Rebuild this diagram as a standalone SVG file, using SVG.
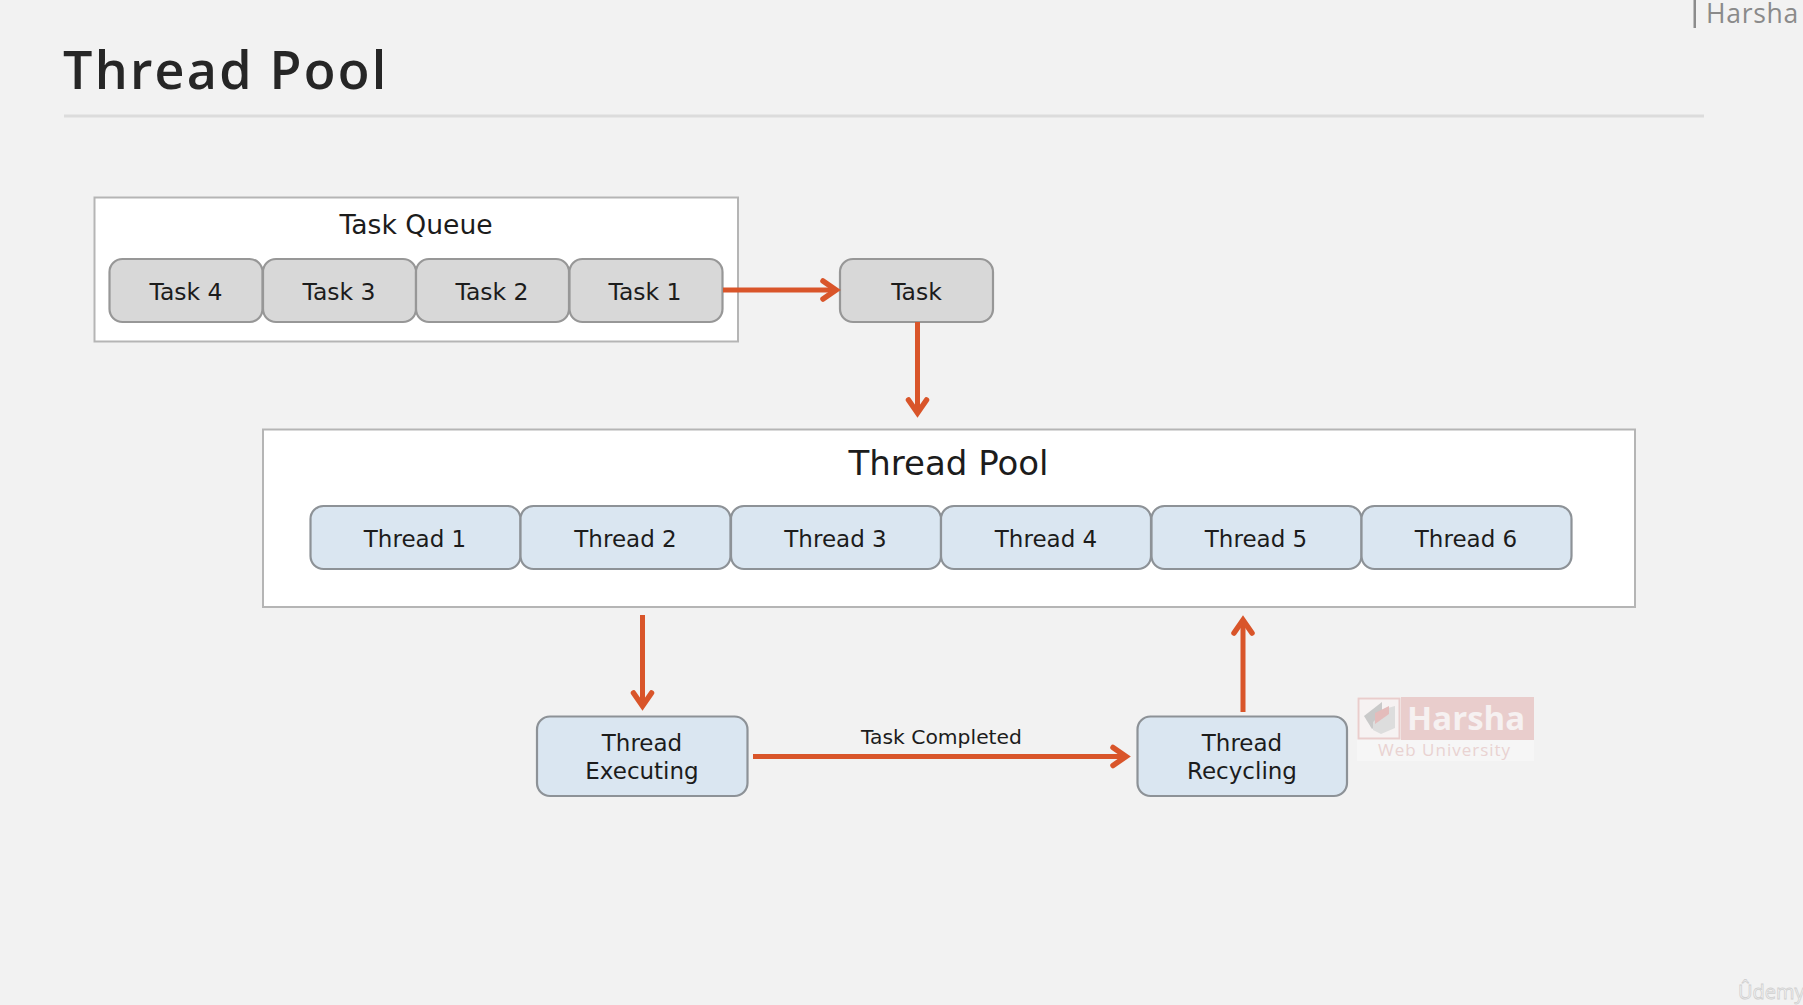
<svg xmlns="http://www.w3.org/2000/svg" width="1803" height="1005" viewBox="0 0 1803 1005">
<style>
.d{font-family:"DejaVu Sans",Verdana,sans-serif;fill:#1c1c1c;text-anchor:middle}
.t{font-size:23px}
.tk{font-size:23.500px}
.box{fill:#fff;stroke:#b5b5b5;stroke-width:2}
.task{fill:#d8d8d8;stroke:#979797;stroke-width:2.200}
.thr{fill:#dae6f1;stroke:#8d9297;stroke-width:2.200}
.c{fill:none;stroke:#d9552a;stroke-width:5}
.h{fill:none;stroke:#d9552a;stroke-width:5.500;stroke-linecap:round;stroke-linejoin:miter}
</style>
<rect width="1803" height="1005" fill="#f2f2f2"/>
<g id="header">
<text x="63" y="89" font-family="'Open Sans',sans-serif" font-weight="600" font-size="52" letter-spacing="2.250" fill="#262626">Thread Pool</text>
<rect x="64" y="114.500" width="1640" height="3" fill="#dcdcdc"/>
<rect x="1693.500" y="0" width="2.500" height="28" fill="#8c8c8c"/>
<text x="1706" y="23" font-family="'Open Sans',sans-serif" font-size="26.500" letter-spacing="0.700" fill="#8a8a8a">Harsha</text>
</g>
<g id="task-queue"><rect class="box" x="94.500" y="197.500" width="643.500" height="144"/><text class="d" x="416" y="234" font-size="26.600">Task Queue</text></g>
<g id="task-4"><rect class="task" x="109.500" y="259" width="153" height="63" rx="13"/><text class="d tk" x="186" y="300">Task 4</text></g>
<g id="task-3"><rect class="task" x="263" y="259" width="153" height="63" rx="13"/><text class="d tk" x="339" y="300">Task 3</text></g>
<g id="task-2"><rect class="task" x="416" y="259" width="153" height="63" rx="13"/><text class="d tk" x="492" y="300">Task 2</text></g>
<g id="task-1"><rect class="task" x="569.500" y="259" width="153" height="63" rx="13"/><text class="d tk" x="645" y="300">Task 1</text></g>
<g id="task"><rect class="task" x="840" y="259" width="153" height="63" rx="13"/><text class="d tk" x="916.500" y="300">Task</text></g>
<g id="thread-pool"><rect class="box" x="263" y="429.500" width="1372" height="177.500"/><text class="d" x="948.500" y="475" font-size="34">Thread Pool</text></g>
<g id="thread-1"><rect class="thr" x="310.500" y="506" width="210" height="63" rx="13"/><text class="d t" x="415" y="546.500">Thread 1</text></g>
<g id="thread-2"><rect class="thr" x="520.500" y="506" width="210" height="63" rx="13"/><text class="d t" x="625.500" y="546.500">Thread 2</text></g>
<g id="thread-3"><rect class="thr" x="731" y="506" width="210" height="63" rx="13"/><text class="d t" x="835.500" y="546.500">Thread 3</text></g>
<g id="thread-4"><rect class="thr" x="941" y="506" width="210" height="63" rx="13"/><text class="d t" x="1046" y="546.500">Thread 4</text></g>
<g id="thread-5"><rect class="thr" x="1151.500" y="506" width="210" height="63" rx="13"/><text class="d t" x="1256" y="546.500">Thread 5</text></g>
<g id="thread-6"><rect class="thr" x="1361.500" y="506" width="210" height="63" rx="13"/><text class="d t" x="1466" y="546.500">Thread 6</text></g>
<g id="thread-executing"><rect class="thr" x="537" y="716.500" width="210.500" height="79.500" rx="13"/><text class="d t" x="642" y="750.500">Thread</text><text class="d t" x="642" y="778.500">Executing</text></g>
<g id="thread-recycling"><rect class="thr" x="1137.500" y="716.500" width="209.500" height="79.500" rx="13"/><text class="d t" x="1242" y="750.500">Thread</text><text class="d t" x="1242" y="778.500">Recycling</text></g>
<g id="connectors">
<path class="c" d="M723 290H836"/><path class="h" d="M823 281L836 290L823 299"/>
<path class="c" d="M917.500 322V413"/><path class="h" d="M908.500 400L917.500 413L926.500 400"/>
<path class="c" d="M642.500 615V706"/><path class="h" d="M633.500 693L642.500 706L651.500 693"/>
<path class="c" d="M753 756.500H1126"/><path class="h" d="M1113 747.500L1126 756.500L1113 765.500"/>
<path class="c" d="M1243 712V620"/><path class="h" d="M1234 633L1243 620L1252 633"/>
</g>
<text class="d" x="941.500" y="744" font-size="20.300">Task Completed</text>
<g id="watermark">
<rect x="1357" y="697" width="177" height="64" fill="#f6f6f6"/>
<rect x="1401" y="697" width="133" height="43" fill="#e9cdcc"/>
<rect x="1358.500" y="698.500" width="41" height="40" fill="#f6f2f2" stroke="#e9cdcc" stroke-width="2"/>
<path d="M1364 716L1382 702V722L1372 729Z" fill="#c9c9c9"/>
<path d="M1373 722L1388 708L1395 706V728L1381 734L1373 730Z" fill="#dddddd"/>
<path d="M1375 713L1389 706V714L1375 724Z" fill="#e4bcbb"/>
<text x="1407" y="730" font-family="'Open Sans',sans-serif" font-weight="700" font-size="33" fill="#f6f1f1">Harsha</text>
<text x="1378" y="756" font-family="'Open Sans',sans-serif" font-size="17" letter-spacing="1" fill="#e9d2d1">Web University</text>
</g>
<text x="1738" y="999" font-family="'Open Sans',sans-serif" font-size="20" fill="#f7f7f7" stroke="#d0d0d0" stroke-width="0.800">Ûdemy</text>
</svg>
